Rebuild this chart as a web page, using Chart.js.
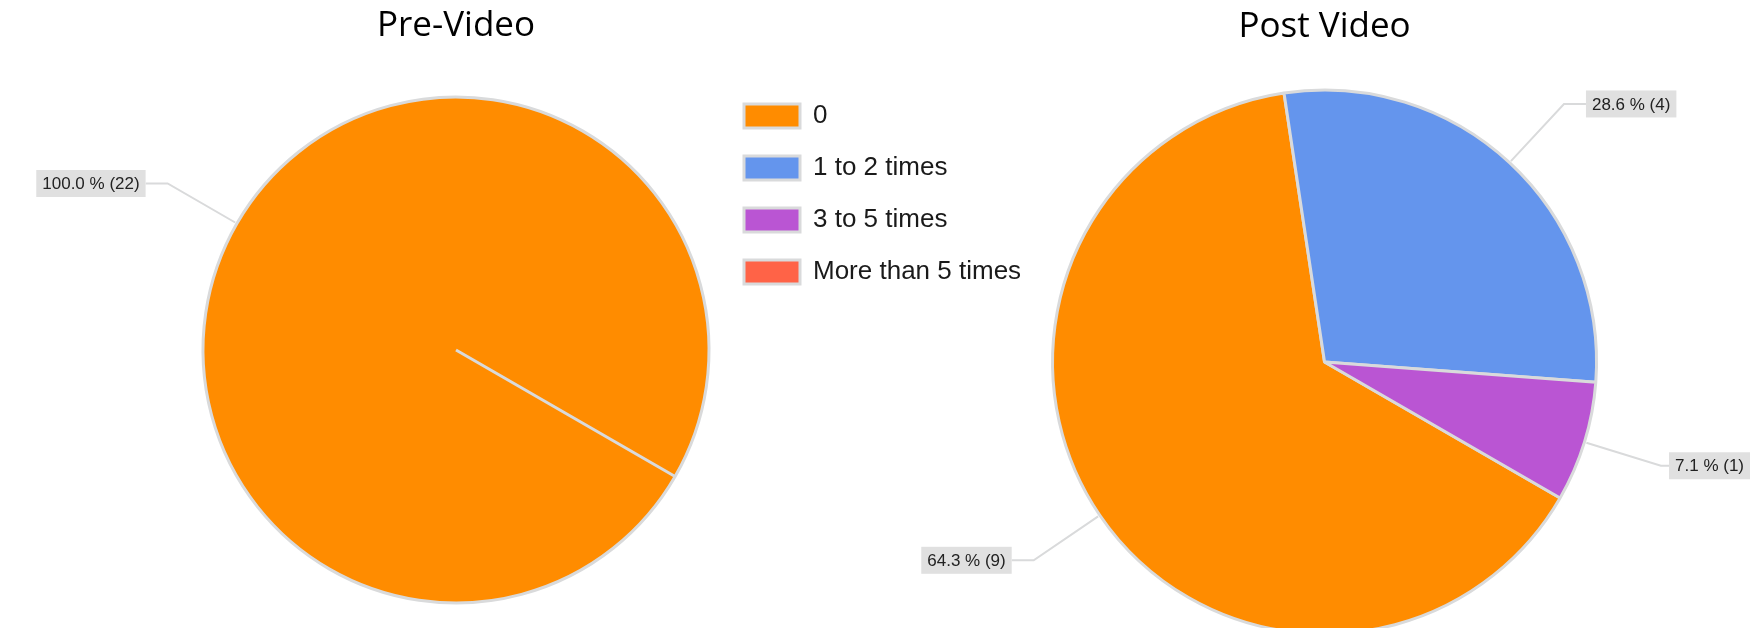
<!DOCTYPE html>
<html>
<head>
<meta charset="utf-8">
<title>Pre / Post Video</title>
<script src="https://cdn.jsdelivr.net/npm/chart.js@4.4.0/dist/chart.umd.min.js"></script>
<style>
  html, body { margin: 0; padding: 0; background: #fff; width: 1753px; height: 628px; overflow: hidden; }
  #postBox { position: absolute; left: 0; top: 0; width: 1753px; height: 724px; }
  #preBox { position: absolute; left: 0; top: 0; width: 912px; height: 628px; }
</style>
</head>
<body>
<div id="postBox"><canvas id="postChart"></canvas></div>
<div id="preBox"><canvas id="preChart"></canvas></div>
<script>
'use strict';

// answers to the question, same for both surveys
let answers = ['0', '1 to 2 times', '3 to 5 times', 'More than 5 times'];
let preVideo = [22, 0, 0, 0];
let postVideo = [9, 4, 1, 0];
let sliceColors = ['#ff8c00', '#6495ed', '#ba55d3', '#ff6347'];
let chartTitles = ['Pre-Video', 'Post Video'];

let titleFont = '"Open Sans", "Noto Sans", sans-serif';
let textFont = '"Liberation Sans", Arial, sans-serif';
let edgeGray = '#d9dadb';

// grey boxes with a leader line: "64.3 % (9)"
let callouts = {
  id: 'callouts',
  afterDatasetsDraw(chart) {
    let ctx = chart.ctx;
    let values = chart.data.datasets[0].data;
    let total = values.reduce((a, b) => a + b, 0);
    let arcs = chart.getDatasetMeta(0).data;
    ctx.save();
    ctx.font = '17px ' + textFont;
    ctx.textBaseline = 'middle';
    for (let i = 0; i < arcs.length; i++) {
      if (!values[i]) continue;
      let arc = arcs[i];
      let mid = (arc.startAngle + arc.endAngle) / 2;
      let cos = Math.cos(mid);
      let sin = Math.sin(mid);
      let r = arc.outerRadius;
      let x0 = arc.x + cos * (r + 2);
      let y0 = arc.y + sin * (r + 2);
      let x1 = arc.x + cos * (r + 80);
      let y1 = arc.y + sin * (r + 80);
      let side = cos >= 0 ? 1 : -1;
      let text = (values[i] / total * 100).toFixed(1) + ' % (' + values[i] + ')';
      let w = ctx.measureText(text).width + 12;
      let h = 27;
      let x2 = x1 + side * 22;
      let left = side > 0 ? x2 : x2 - w;
      if (left + w > chart.width - 3) {
        left = chart.width - 3 - w;
        x2 = left;
      }
      ctx.strokeStyle = edgeGray;
      ctx.lineWidth = 2;
      ctx.beginPath();
      ctx.moveTo(x0, y0);
      ctx.lineTo(x1, y1);
      ctx.lineTo(x2, y1);
      ctx.stroke();
      ctx.fillStyle = '#e0e0e0';
      ctx.fillRect(left, y1 - h / 2, w, h);
      ctx.fillStyle = '#222';
      ctx.fillText(text, left + 6, y1 + 1);
    }
    ctx.restore();
  }
};

let preChart = new Chart(document.getElementById('preChart'), {
  type: 'pie',
  data: {
    labels: answers,
    datasets: [{
      data: preVideo,
      backgroundColor: sliceColors,
      borderColor: edgeGray,
      borderWidth: 3,
      rotation: 120,
      radius: 253
    }]
  },
  options: {
    responsive: true,
    maintainAspectRatio: false,
    animation: false,
    events: [],
    layout: { padding: { top: 0, bottom: 18, left: 0, right: 0 } },
    plugins: {
      legend: { display: false },
      tooltip: { enabled: false },
      title: {
        display: true,
        text: chartTitles[0],
        color: '#000',
        font: { family: titleFont, size: 35, weight: 'normal' },
        padding: { top: 5, bottom: 43 }
      }
    }
  },
  plugins: [callouts]
});

let postChart = new Chart(document.getElementById('postChart'), {
  type: 'pie',
  data: {
    labels: answers,
    datasets: [{
      data: postVideo,
      backgroundColor: sliceColors,
      borderColor: edgeGray,
      borderWidth: 3,
      rotation: 120,
      radius: 272
    }]
  },
  options: {
    responsive: true,
    maintainAspectRatio: false,
    animation: false,
    events: [],
    layout: { padding: { top: 0, bottom: 77, left: 718, right: 135 } },
    plugins: {
      legend: {
        display: true,
        position: 'left',
        align: 'start',
        fullSize: false,
        labels: {
          boxWidth: 56,
          boxHeight: 24,
          padding: 26,
          color: '#1a1a1a',
          font: { family: textFont, size: 26 }
        }
      },
      tooltip: { enabled: false },
      title: {
        display: true,
        fullSize: false,
        text: chartTitles[1],
        color: '#000',
        font: { family: titleFont, size: 35, weight: 'normal' },
        padding: { top: 6, bottom: 29 }
      }
    }
  },
  plugins: [callouts]
});
</script>
</body>
</html>
